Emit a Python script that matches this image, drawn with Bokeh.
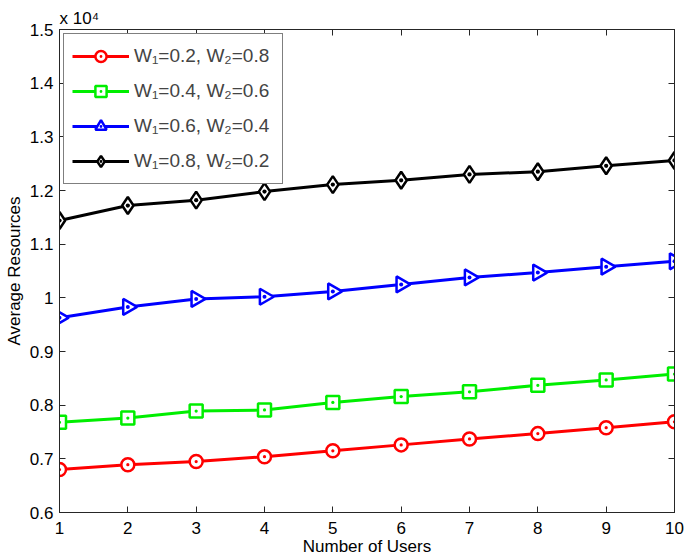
from bokeh.plotting import figure
from bokeh.models import Range1d, FixedTicker, LinearAxis, CustomJSTickFormatter
from bokeh.embed import file_html
from bokeh.resources import INLINE
import math

users = [1, 2, 3, 4, 5, 6, 7, 8, 9, 10]
w1_02 = [6800, 6890, 6950, 7040, 7150, 7260, 7370, 7470, 7580, 7690]
w1_04 = [7680, 7760, 7890, 7910, 8050, 8160, 8250, 8370, 8470, 8580]
w1_06 = [9630, 9830, 9980, 10020, 10120, 10250, 10380, 10470, 10580, 10680]
w1_08 = [11440, 11720, 11820, 11980, 12110, 12190, 12300, 12350, 12460, 12560]
series_labels = ["W\u2081=0.2, W\u2082=0.8", "W\u2081=0.4, W\u2082=0.6",
                 "W\u2081=0.6, W\u2082=0.4", "W\u2081=0.8, W\u2082=0.2"]
x_ticks = [1, 2, 3, 4, 5, 6, 7, 8, 9, 10]
y_ticks = [6000, 7000, 8000, 9000, 10000, 11000, 12000, 13000, 14000, 15000]
scale_text = "x 10\u2074"

FONT = "Liberation Sans"
AX = "#262626"

p = figure(width=685, height=559, x_range=Range1d(1, 10), y_range=Range1d(6000, 15000),
           output_backend="svg", toolbar_location=None,
           min_border_left=59, min_border_right=11, min_border_top=29, min_border_bottom=47)
p.grid.visible = False
p.outline_line_color = AX
p.background_fill_color = "white"

p.title.text = scale_text
p.title.align = "left"
p.title.text_font = FONT
p.title.text_font_size = "17px"
p.title.text_font_style = "normal"
p.title.text_color = "black"
p.title.standoff = 4

yfmt = CustomJSTickFormatter(code="return (tick/10000).toString();")

for ax in [p.xaxis[0], p.yaxis[0]]:
    ax.major_tick_in = 6
    ax.major_tick_out = 0
    ax.minor_tick_line_color = None
    ax.axis_line_color = AX
    ax.major_tick_line_color = AX
    ax.major_label_text_font = FONT
    ax.major_label_text_font_size = "17px"
    ax.major_label_text_color = "black"
    ax.axis_label_text_font = FONT
    ax.axis_label_text_font_size = "17px"
    ax.axis_label_text_font_style = "normal"
    ax.axis_label_text_color = "black"

p.xaxis.ticker = FixedTicker(ticks=x_ticks)
p.yaxis.ticker = FixedTicker(ticks=y_ticks)
p.yaxis.formatter = yfmt
p.xaxis.axis_label = "Number of Users"
p.yaxis.axis_label = "Average Resources"
p.xaxis.major_label_standoff = 9
p.xaxis.axis_label_standoff = 0
p.yaxis.major_label_standoff = 6
p.yaxis.axis_label_standoff = 3

blank = CustomJSTickFormatter(code="return '';")
for loc, ticks in [("above", x_ticks), ("right", y_ticks)]:
    ax = LinearAxis(ticker=FixedTicker(ticks=ticks), formatter=blank,
                    major_tick_in=6, major_tick_out=0, minor_tick_line_color=None,
                    axis_line_color=AX, major_tick_line_color=AX, major_label_standoff=0)
    p.add_layout(ax, loc)

styles = [
    (w1_02, "#ff0000", "circle_dot", 13, 0.0),
    (w1_04, "#00ee00", "square_dot", 13, 0.0),
    (w1_06, "#0000ff", "triangle_dot", 16, -math.pi / 2),
    (w1_08, "#000000", "diamond_dot", 17, 0.0),
]
for (vals, col, mk, sz, ang), lab in zip(styles, series_labels):
    p.line(users, vals, line_color=col, line_width=3, legend_label=lab)
    p.scatter(users, vals, marker=mk, size=sz, angle=ang, line_color=col, line_width=2.5,
              fill_color="white", legend_label=lab)

lg = p.legend[0]
lg.location = "top_left"
lg.margin = 4
lg.padding = 8
lg.spacing = 7
lg.glyph_width = 57
lg.glyph_height = 28
lg.label_height = 28
lg.label_width = 140
lg.label_standoff = 5
lg.label_text_font = FONT
lg.label_text_font_size = "19px"
lg.border_line_color = "black"
lg.border_line_width = 1
lg.background_fill_alpha = 1

open("out.html", "w").write(file_html(p, INLINE))
